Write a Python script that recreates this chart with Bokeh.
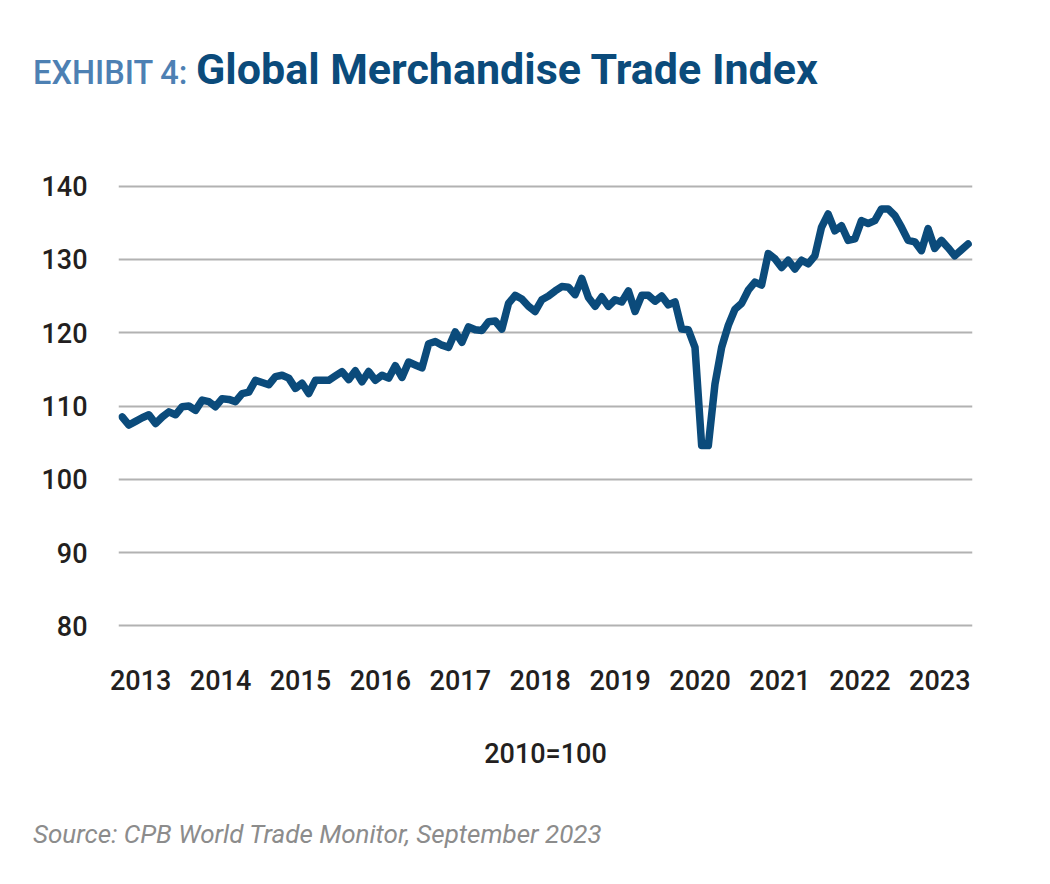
from bokeh.plotting import figure
from bokeh.models import Range1d, FixedTicker, Div
from bokeh.layouts import column
from bokeh.embed import file_html
from bokeh.resources import INLINE

# CPB World Trade Monitor, world merchandise trade volume (2010 = 100), monthly from Jan 2013
start_year = 2013
trade_index = [
    108.5, 107.4, 107.9, 108.4, 108.8, 107.6, 108.5, 109.2, 108.8, 109.9, 110.0, 109.4,
    110.8, 110.6, 109.9, 111.0, 110.9, 110.6, 111.7, 111.9, 113.5, 113.2, 112.9, 114.0,
    114.2, 113.8, 112.4, 113.1, 111.7, 113.5, 113.5, 113.5, 114.1, 114.7, 113.6, 114.8,
    113.3, 114.7, 113.5, 114.2, 113.8, 115.5, 113.9, 116.0, 115.6, 115.2, 118.5, 118.8,
    118.3, 118.0, 120.1, 118.7, 120.8, 120.4, 120.3, 121.5, 121.6, 120.5, 124.0, 125.1,
    124.6, 123.6, 122.9, 124.5, 125.0, 125.7, 126.3, 126.2, 125.2, 127.4, 124.8, 123.6,
    124.9, 123.6, 124.5, 124.2, 125.7, 122.9, 125.1, 125.1, 124.3, 125.0, 123.8, 124.2,
    120.5, 120.4, 118.0, 104.6, 104.6, 113.0, 118.0, 121.0, 123.2, 124.0, 125.8, 126.9,
    126.5, 130.8, 130.1, 128.9, 129.9, 128.7, 129.9, 129.4, 130.5, 134.4, 136.2, 133.9,
    134.6, 132.6, 132.8, 135.3, 134.9, 135.3, 136.9, 136.9, 136.0, 134.4, 132.6, 132.4,
    131.2, 134.2, 131.5, 132.6, 131.6, 130.5, 131.3, 132.1,
]
year_labels = ["2013", "2014", "2015", "2016", "2017", "2018",
               "2019", "2020", "2021", "2022", "2023"]
y_ticks = [80, 90, 100, 110, 120, 130, 140]

# month positions as fractional years
months = [start_year + i / 12 for i in range(len(trade_index))]
year_tick_pos = [int(y) + 0.23 for y in year_labels]

LINE_BLUE = "#0b4b7b"
TEXT_DARK = "#231f20"
TICK_FONT = "Roboto Medium"

W = 1050
HEADER_H, CHART_H, FOOTER_H = 150, 640, 94
BORDER_T, FRAME_H = 32, 447


def span(text, left, baseline, size, css):
    # absolutely placed single line; Roboto baseline sits ~0.842em below the top of a 1em line box
    top = baseline - 0.842 * size
    return (f'<span style="position:absolute; left:{left}px; top:{top:.1f}px; '
            f'font-size:{size}px; line-height:1; white-space:nowrap; {css}">{text}</span>')


header = Div(
    width=W, height=HEADER_H, margin=0,
    text=('<div style="position:relative; width:1050px; height:150px;">'
          + span("EXHIBIT 4:", 33, 84, 32.5,
                 "font-family:'Roboto Medium', Roboto; color:#4d80b3;")
          + span("Global Merchandise Trade Index", 196, 84, 43,
                 "font-family:Roboto; font-weight:bold; color:#0b4b7b;")
          + '</div>'),
)

p = figure(
    width=W, height=CHART_H,
    output_backend="svg", toolbar_location=None,
    x_range=Range1d(2012.953, 2023.639),
    y_range=Range1d(79.5, 140.5),
    min_border_left=118, min_border_right=78,
    min_border_top=BORDER_T, min_border_bottom=CHART_H - BORDER_T - FRAME_H,
    background_fill_color="white", border_fill_color="white", margin=0,
)
p.outline_line_color = None

p.line(months, trade_index, line_color=LINE_BLUE, line_width=7.5,
       line_join="round", line_cap="round")

p.xgrid.grid_line_color = None
p.ygrid.grid_line_color = "#b2b2b2"
p.ygrid.grid_line_width = 2
p.ygrid.ticker = FixedTicker(ticks=y_ticks)

ya = p.yaxis[0]
ya.ticker = FixedTicker(ticks=y_ticks)
ya.axis_line_color = None
ya.major_tick_line_color = None
ya.minor_tick_line_color = None
ya.major_label_standoff = 25
ya.major_label_text_font = TICK_FONT
ya.major_label_text_font_size = "27px"
ya.major_label_text_color = TEXT_DARK

xa = p.xaxis[0]
xa.ticker = FixedTicker(ticks=year_tick_pos)
xa.major_label_overrides = {pos: lab for pos, lab in zip(year_tick_pos, year_labels)}
xa.axis_line_color = None
xa.major_tick_line_color = None
xa.minor_tick_line_color = None
xa.major_label_standoff = 34
xa.major_label_text_font = TICK_FONT
xa.major_label_text_font_size = "27px"
xa.major_label_text_color = TEXT_DARK
xa.axis_label = "2010=100"
xa.axis_label_standoff = 45
xa.axis_label_text_font = TICK_FONT
xa.axis_label_text_font_size = "27px"
xa.axis_label_text_font_style = "normal"
xa.axis_label_text_color = TEXT_DARK

footer = Div(
    width=W, height=FOOTER_H, margin=0,
    text=('<div style="position:relative; width:1050px; height:94px;">'
          + span("Source: CPB World Trade Monitor, September 2023", 33, 53, 26,
                 "font-family:Roboto; font-style:italic; color:#8c8c8c;")
          + '</div>'),
)

layout = column(header, p, footer, spacing=0)
open("out.html", "w").write(file_html(layout, INLINE))
